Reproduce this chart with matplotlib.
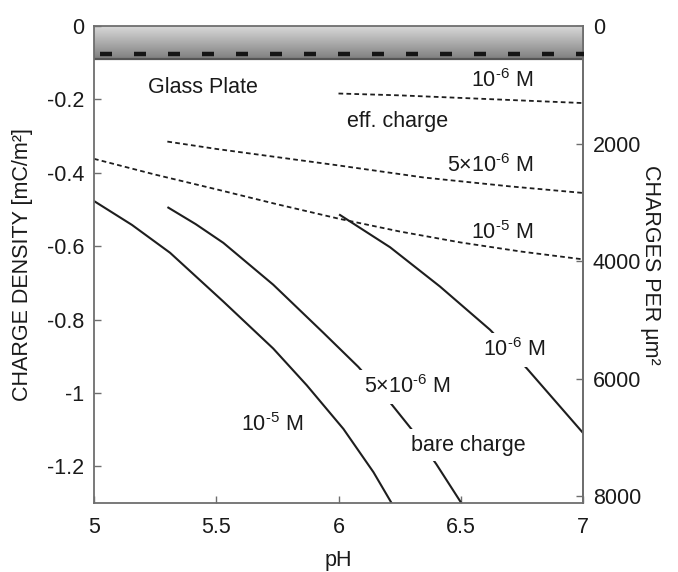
import numpy as np
import matplotlib
matplotlib.use("Agg")
import matplotlib.pyplot as plt

plt.rcParams['font.family'] = ['Liberation Sans', 'DejaVu Sans']
plt.rcParams['mathtext.fontset'] = 'custom'
plt.rcParams['mathtext.rm'] = 'Liberation Sans'
plt.rcParams['mathtext.it'] = 'Liberation Sans:italic'
plt.rcParams['mathtext.bf'] = 'Liberation Sans:bold'
plt.rcParams['axes.unicode_minus'] = False

# ---- data ----
# effective charge (dotted)
eff_1e6_ph = [6.0, 6.25, 6.5, 6.75, 7.0]
eff_1e6_sig = [-0.184, -0.189, -0.196, -0.203, -0.210]

eff_5e6_ph = [5.3, 5.5, 5.8, 6.0, 6.35, 6.7, 7.0]
eff_5e6_sig = [-0.315, -0.335, -0.362, -0.380, -0.413, -0.437, -0.455]

eff_1e5_ph = [5.0, 5.25, 5.5, 5.75, 6.0, 6.25, 6.5, 6.75, 7.0]
eff_1e5_sig = [-0.362, -0.405, -0.445, -0.486, -0.525, -0.560, -0.590, -0.615, -0.636]

# bare charge (solid)
bare_1e5_ph = [5.0, 5.155, 5.311, 5.529, 5.733, 5.870, 6.020, 6.143, 6.224]
bare_1e5_sig = [-0.477, -0.542, -0.618, -0.751, -0.879, -0.979, -1.098, -1.216, -1.308]

bare_5e6_ph = [5.304, 5.416, 5.529, 5.733, 5.938, 6.081, 6.217, 6.30, 6.40, 6.51]
bare_5e6_sig = [-0.495, -0.540, -0.591, -0.705, -0.836, -0.929, -1.031, -1.10, -1.194, -1.308]

bare_1e6_ph = [6.006, 6.211, 6.415, 6.62, 6.77, 7.0]
bare_1e6_sig = [-0.515, -0.603, -0.710, -0.828, -0.933, -1.109]

x_ticks = [5, 5.5, 6, 6.5, 7]
x_ticklabels = ['5', '5.5', '6', '6.5', '7']
y_ticks = [0, -0.2, -0.4, -0.6, -0.8, -1.0, -1.2]
y_ticklabels = ['0', '-0.2', '-0.4', '-0.6', '-0.8', '-1', '-1.2']
r_ticks = [0, 2000, 4000, 6000, 8000]

E_CHARGE_CONV = 6241.5  # charges per um^2 per mC/m^2
PLATE_BOTTOM = -0.09
PLATE_DASH_Y = -0.077
PLATE_DASH_START = 5.05
PLATE_DASH_STEP = 0.139
PLATE_TOP_GRAY = 0.86
PLATE_BOTTOM_GRAY = 0.50

TXT = '#1a1a1a'
LINE = '#1e1e1e'
SPINE = '#6e6e6e'
FS = 15.5

fig = plt.figure(figsize=(6.78, 5.72), dpi=100)
ax = fig.add_axes([94/678, 69/572, (583-94)/678, (503-26)/572])
ax.set_xlim(5, 7)
ax.set_ylim(-1.3, 0)

# glass plate band (row 0 = top)
g = np.linspace(PLATE_TOP_GRAY, PLATE_BOTTOM_GRAY, 128)
rgb = np.repeat(g[:, None, None], 3, axis=2)
ax.imshow(rgb, extent=[5, 7, PLATE_BOTTOM, 0], aspect='auto',
          origin='upper', interpolation='bilinear', zorder=1)
ax.axhline(PLATE_BOTTOM, color='#555555', lw=1.6, zorder=2)
dash_x = np.arange(PLATE_DASH_START, 7.01, PLATE_DASH_STEP)
ax.plot(dash_x, np.full_like(dash_x, PLATE_DASH_Y), ls='none', marker='_',
        markersize=8.0, markeredgewidth=3.2, color='#151515', zorder=3, clip_on=True)

dot = (0, (2.6, 1.8))
ax.plot(eff_1e6_ph, eff_1e6_sig, color=LINE, lw=1.3, ls=dot, zorder=2)
ax.plot(eff_5e6_ph, eff_5e6_sig, color=LINE, lw=1.3, ls=dot, zorder=2)
ax.plot(eff_1e5_ph, eff_1e5_sig, color=LINE, lw=1.3, ls=dot, zorder=2)

ax.plot(bare_1e5_ph, bare_1e5_sig, color=LINE, lw=1.5, zorder=2)
ax.plot(bare_5e6_ph, bare_5e6_sig, color=LINE, lw=1.5, zorder=2)
ax.plot(bare_1e6_ph, bare_1e6_sig, color=LINE, lw=1.5, zorder=2)

wb = dict(facecolor='white', edgecolor='none', pad=4)
def lab(x, y, s, box=False):
    ax.text(x, y, s, ha='center', va='center', fontsize=FS, color=TXT,
            bbox=wb if box else None, zorder=5)

def sup(base, exp):
    return base + r'$^{\text{-}' + exp + r'}$'

lab(5.445, -0.168, 'Glass Plate')
lab(6.67, -0.150, sup('10', '6') + ' M')
lab(6.24, -0.260, 'eff. charge')
lab(6.62, -0.381, sup('5×10', '6') + ' M')
lab(6.67, -0.562, sup('10', '5') + ' M')
lab(6.72, -0.882, sup('10', '6') + ' M', box=True)
lab(6.28, -0.983, sup('5×10', '6') + ' M', box=True)
lab(5.73, -1.085, sup('10', '5') + ' M')
lab(6.53, -1.143, 'bare charge', box=True)

ax.set_xticks(x_ticks)
ax.set_xticklabels(x_ticklabels)
ax.set_yticks(y_ticks)
ax.set_yticklabels(y_ticklabels)
ax.tick_params(direction='in', length=5, width=1, color=SPINE, labelsize=FS,
               labelcolor=TXT)
ax.tick_params(axis='x', pad=10)
ax.tick_params(axis='y', pad=7)
for s in ax.spines.values():
    s.set_color(SPINE)
    s.set_linewidth(1.3)
ax.spines['top'].set_zorder(6)

ax.set_xlabel('pH', fontsize=FS, color=TXT, labelpad=9)
ax.set_ylabel('CHARGE DENSITY [mC/m²]', fontsize=FS, color=TXT, labelpad=10)

sec = ax.secondary_yaxis('right', functions=(lambda s: -s * E_CHARGE_CONV,
                                              lambda c: -c / E_CHARGE_CONV))
sec.set_yticks(r_ticks)
sec.tick_params(direction='in', length=5, width=1, color=SPINE, labelsize=FS,
                labelcolor=TXT, pad=7)
sec.spines['right'].set_color(SPINE)
sec.spines['right'].set_linewidth(1.3)
sec.set_ylabel('CHARGES PER µm²', fontsize=FS, color=TXT, rotation=270,
               labelpad=14)

fig.savefig('out.png', dpi=100)
